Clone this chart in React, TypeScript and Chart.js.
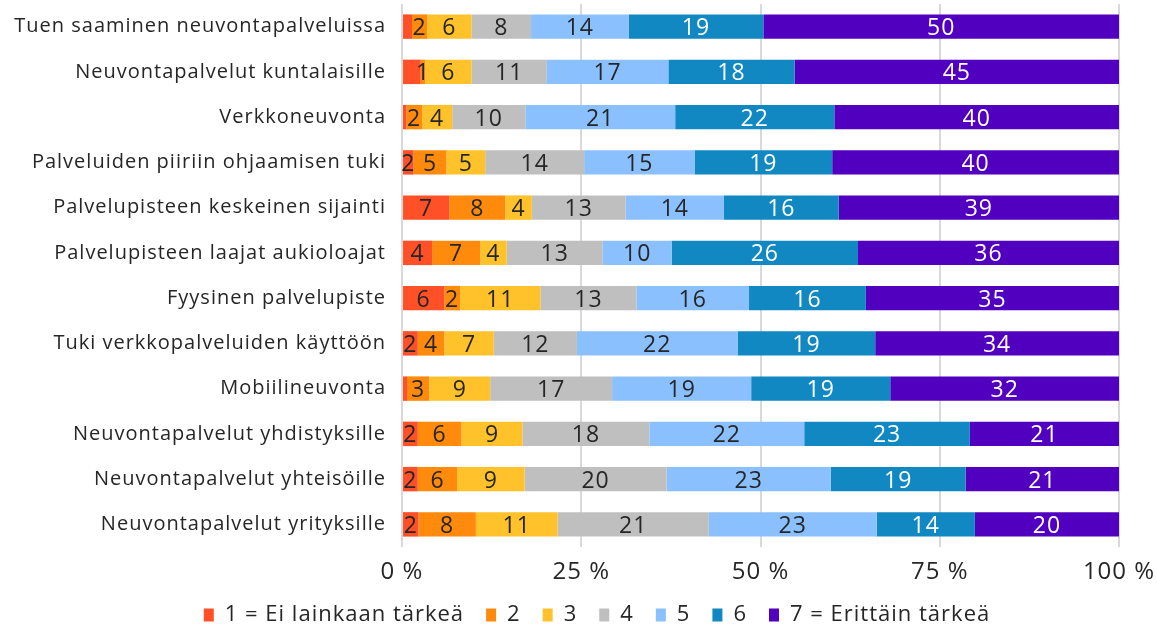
import React, { useEffect, useRef } from "react";
import { Chart, registerables } from "chart.js";

Chart.register(...registerables);

const CATEGORIES = [
  "Tuen saaminen neuvontapalveluissa",
  "Neuvontapalvelut kuntalaisille",
  "Verkkoneuvonta",
  "Palveluiden piiriin ohjaamisen tuki",
  "Palvelupisteen keskeinen sijainti",
  "Palvelupisteen laajat aukioloajat",
  "Fyysinen palvelupiste",
  "Tuki verkkopalveluiden käyttöön",
  "Mobiilineuvonta",
  "Neuvontapalvelut yhdistyksille",
  "Neuvontapalvelut yhteisöille",
  "Neuvontapalvelut yrityksille",
];

const SERIES_NAMES = ["1 = Ei lainkaan tärkeä", "2", "3", "4", "5", "6", "7 = Erittäin tärkeä"];

const S1 = [1.4, 2.6, 0.6, 1.6, 6.6, 4.2, 5.9, 2.2, 0.7, 2.2, 2.2, 2.3];
const S2 = [2.1, 0.65, 2.2, 4.6, 7.8, 6.7, 2.2, 3.7, 3.1, 6.1, 5.5, 8.0];
const S3 = [6.2, 6.45, 4.2, 5.4, 3.7, 3.7, 11.2, 6.9, 8.5, 8.5, 9.4, 11.4];
const S4 = [8.3, 10.5, 10.2, 13.8, 13.1, 13.4, 13.4, 11.6, 17.0, 17.7, 19.8, 21.1];
const S5 = [13.6, 16.95, 20.9, 15.4, 13.7, 9.6, 15.7, 22.4, 19.4, 21.6, 22.9, 23.4];
const S6 = [18.8, 17.6, 22.2, 19.2, 16.0, 26.0, 16.3, 19.2, 19.4, 23.1, 18.8, 13.7];
const S7 = [49.6, 45.25, 39.7, 40.0, 39.1, 36.4, 35.3, 34.0, 31.9, 20.8, 21.4, 20.1];

const SERIES = [S1, S2, S3, S4, S5, S6, S7];

const X_TICKS = [0, 25, 50, 75, 100];

// labels not shown in the reference: "categoryIndex:seriesIndex"
const HIDDEN_LABELS = ["0:0", "1:0", "2:0", "8:0"];

const COLORS = ["#FF5028", "#FF8A0C", "#FFC22B", "#BFBFBF", "#8BC0FF", "#1188C2", "#5200C0"];
const LABEL_COLORS = ["#262626", "#262626", "#262626", "#262626", "#262626", "#FFFFFF", "#FFFFFF"];

const FONT = "'Open Sans', sans-serif";
const TEXT = "#262626";
const SPACING = "1px";

export default function App() {
  const ref = useRef<HTMLCanvasElement | null>(null);

  useEffect(() => {
    document.body.style.margin = "0";
    const canvas = ref.current;
    if (!canvas) return;

    const spacing = {
      id: "spacing",
      beforeUpdate(chart: any) {
        (chart.ctx as any).letterSpacing = SPACING;
      },
      beforeLayout(chart: any) {
        (chart.ctx as any).letterSpacing = SPACING;
      },
      beforeDraw(chart: any) {
        (chart.ctx as any).letterSpacing = SPACING;
      },
    };

    const segLabels = {
      id: "segLabels",
      afterDatasetsDraw(chart: any) {
        const ctx = chart.ctx;
        ctx.save();
        ctx.font = `23px ${FONT}`;
        ctx.textAlign = "center";
        ctx.textBaseline = "middle";
        chart.data.datasets.forEach((ds: any, di: number) => {
          const meta = chart.getDatasetMeta(di);
          meta.data.forEach((el: any, i: number) => {
            if (HIDDEN_LABELS.includes(`${i}:${di}`)) return;
            const v = ds.data[i];
            const p = el.getCenterPoint();
            ctx.fillStyle = LABEL_COLORS[di];
            ctx.fillText(String(Math.round(v)), p.x, p.y + 2);
          });
        });
        ctx.restore();
      },
    };

    const legendShift = {
      id: "legendShift",
      afterLayout(chart: any) {
        const lg = chart.legend;
        if (!lg) return;
        const w = lg.right - lg.left;
        const c = 597;
        lg.left = c - w / 2;
        lg.right = c + w / 2;
        lg.top -= 3;
        lg.bottom -= 3;
      },
    };

    const chart = new Chart(canvas, {
      type: "bar",
      data: {
        labels: CATEGORIES,
        datasets: SERIES.map((d, i) => ({
          label: SERIES_NAMES[i],
          data: d,
          backgroundColor: COLORS[i],
          borderWidth: 0,
          categoryPercentage: 1,
          barPercentage: 0.54,
        })),
      },
      options: {
        indexAxis: "y",
        animation: false,
        responsive: false,
        maintainAspectRatio: false,
        layout: { padding: { top: 4, right: 38, bottom: -10, left: 0 } },
        scales: {
          x: {
            stacked: true,
            min: 0,
            max: 100,
            afterBuildTicks(scale: any) {
              scale.ticks = X_TICKS.map((v) => ({ value: v }));
            },
            afterFit(scale: any) {
              scale.height = 38;
              scale.paddingLeft = 0;
              scale.paddingRight = 0;
            },
            grid: { color: "#D9D9D9", lineWidth: 2, drawTicks: false },
            border: { display: false },
            ticks: {
              padding: 11,
              color: TEXT,
              font: { family: FONT, size: 24 },
              callback: (v: any) => `${v} %`,
            },
          },
          y: {
            stacked: true,
            afterFit(scale: any) {
              scale.width = 402;
              scale.paddingTop = 0;
              scale.paddingBottom = 0;
            },
            grid: { display: false, drawTicks: false },
            border: { display: false },
            ticks: {
              padding: 16,
              color: TEXT,
              font: { family: FONT, size: 20 },
            },
          },
        },
        plugins: {
          legend: {
            position: "bottom",
            labels: {
              boxWidth: 10,
              boxHeight: 13,
              padding: 22,
              color: TEXT,
              font: { family: FONT, size: 22 },
            },
          },
          tooltip: { enabled: false },
        },
      },
      plugins: [spacing, segLabels, legendShift],
    });

    return () => chart.destroy();
  }, []);

  return (
    <div style={{ width: 1157, height: 629 }}>
      <canvas ref={ref} width={1157} height={629} style={{ display: "block" }} />
    </div>
  );
}
